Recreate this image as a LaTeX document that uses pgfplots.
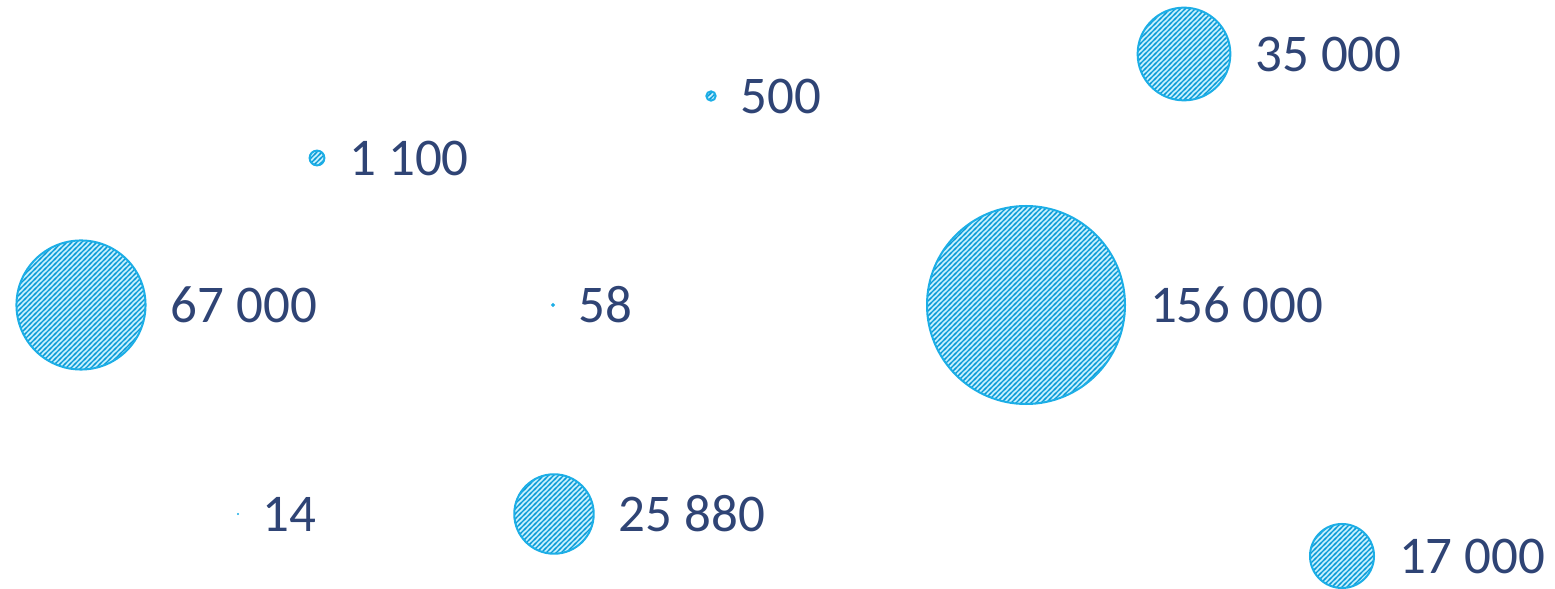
\documentclass[border=0pt]{standalone}
\usepackage{fontspec}
\setmainfont{Carlito}
\usepackage{pgfplots}
\usepackage{pgfplotstable}
\pgfplotsset{compat=1.18}
\usetikzlibrary{patterns}
\definecolor{bubblefill}{HTML}{C2EFFD}
\definecolor{hatchcol}{HTML}{0798D6}
\definecolor{edgecol}{HTML}{1CAEE6}
\definecolor{labelcol}{HTML}{2F4475}
\pgfdeclarepatternformonly{bubblehatch}{\pgfpoint{-1pt}{-1pt}}{\pgfpoint{3.5pt}{3.5pt}}{\pgfpoint{2.5pt}{2.5pt}}{%
  \pgfsetlinewidth{0.7pt}%
  \pgfpathmoveto{\pgfpoint{-0.5pt}{-0.5pt}}%
  \pgfpathlineto{\pgfpoint{3pt}{3pt}}%
  \pgfusepath{stroke}}
\pgfdeclareplotmark{hatchball}{%
  \pgfmathsetmacro\bubblelw{min(1.0,0.7*\perpointmarksize)}%
  \pgfmathsetmacro\bubblerr{\perpointmarksize-0.5*\bubblelw}%
  \pgfpathcircle{\pgfpointorigin}{\bubblerr pt}%
  \pgfsetfillcolor{bubblefill}\pgfusepath{fill}%
  \pgfpathcircle{\pgfpointorigin}{\bubblerr pt}%
  \pgfsetfillpattern{bubblehatch}{hatchcol}\pgfusepath{fill}%
  \pgfpathcircle{\pgfpointorigin}{\bubblerr pt}%
  \pgfsetlinewidth{\bubblelw pt}\pgfsetstrokecolor{edgecol}\pgfusepath{stroke}%
}
\pgfplotstableread{
x y v
81 284 67000
238 75 14
317 431 1100
553 284 58
554 75 25880
711 493 500
1026 284 156000
1184 535 35000
1342 33 17000
}\bubbles
\begin{document}
\begin{tikzpicture}
\begin{axis}[
  width=777.5pt, height=294.5pt, scale only axis,
  xmin=0, xmax=1555, ymin=0, ymax=589,
  hide axis, clip=false,
]
\addplot[
  scatter, only marks, mark=hatchball,
  point meta=explicit,
  visualization depends on={0.1266*sqrt(\thisrow{v}) \as \perpointmarksize},
  scatter/@pre marker code/.append style={/tikz/mark size=\perpointmarksize},
  nodes near coords,
  nodes near coords align={anchor=west},
  every node near coord/.append style={anchor=west, inner sep=0pt,
    xshift={\perpointmarksize*1pt+11.5pt},
    font=\fontsize{26.5}{30}\selectfont, text=labelcol,
    /pgf/number format/.cd, fixed, precision=0, 1000 sep={\ }, assume math mode=true},
] table[x=x, y=y, meta=v] {\bubbles};
\end{axis}
\pgfresetboundingbox
\path (current axis.south west) rectangle (current axis.north east);
\end{tikzpicture}
\end{document}
